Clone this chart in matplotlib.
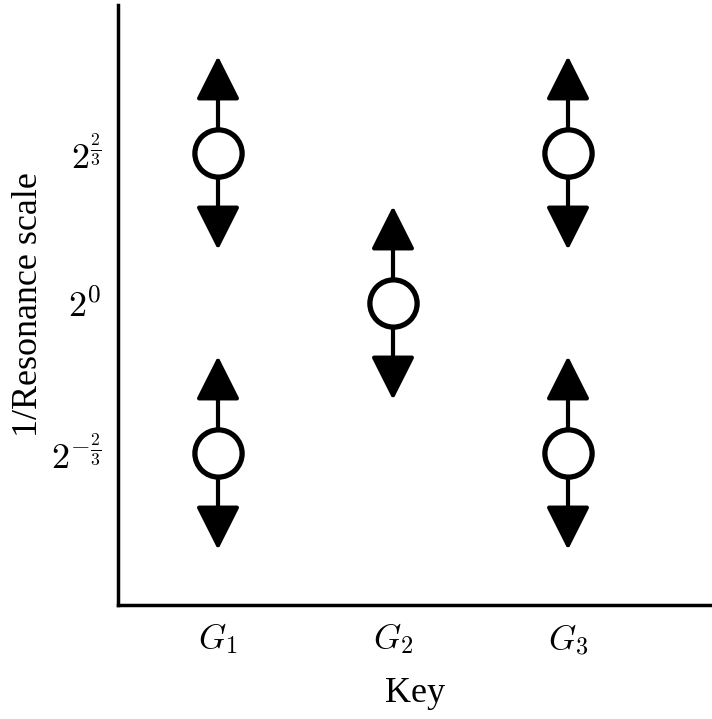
import matplotlib.pyplot as plt

plt.rcParams['font.family'] = 'Liberation Serif'
plt.rcParams['mathtext.fontset'] = 'cm'

# group positions on the x axis and log2 resonance levels
groups = ['$G_1$', '$G_2$', '$G_3$']
group_x = [1, 2, 3]
point_x = [1, 1, 2, 3, 3]
point_y = [2/3, -2/3, 0, 2/3, -2/3]
arrow_len = 0.43
ytick_vals = [-2/3, 0, 2/3]
ytick_labels = [r'$2^{-\frac{2}{3}}$', r'$2^{0}$', r'$2^{\frac{2}{3}}$']

fig = plt.figure(figsize=(7.12, 7.19), dpi=100)
ax = fig.add_axes([118/712, 114/719, 594/712, 600/719])

for x, y in zip(point_x, point_y):
    for d in (1, -1):
        ax.annotate('', xy=(x, y + d * arrow_len), xytext=(x, y),
                    arrowprops=dict(arrowstyle='-|>,head_length=1.35,head_width=0.68',
                                    mutation_scale=20, lw=3, color='black',
                                    shrinkA=0, shrinkB=0), zorder=2)
ax.plot(point_x, point_y, 'o', ms=34, mfc='white', mec='black', mew=3.8, ls='none', zorder=3)

ax.set_xlim(1 - 100/175, 3 + 144/175)
ax.set_ylim(-302/225, 298/225)
ax.set_xticks(group_x)
ax.set_xticklabels(groups, fontsize=25)
ax.set_yticks(ytick_vals)
ax.set_yticklabels(ytick_labels, fontsize=26)
ax.tick_params(length=0, pad=12)
ax.spines['top'].set_visible(False)
ax.spines['right'].set_visible(False)
ax.spines['left'].set_linewidth(2.5)
ax.spines['bottom'].set_linewidth(2.5)
ax.set_xlabel('Key', fontsize=26, labelpad=14)
ax.set_ylabel('1/Resonance scale', fontsize=26)
ax.yaxis.set_label_coords(-0.123, 0.5)

fig.savefig('out.png', dpi=100)
